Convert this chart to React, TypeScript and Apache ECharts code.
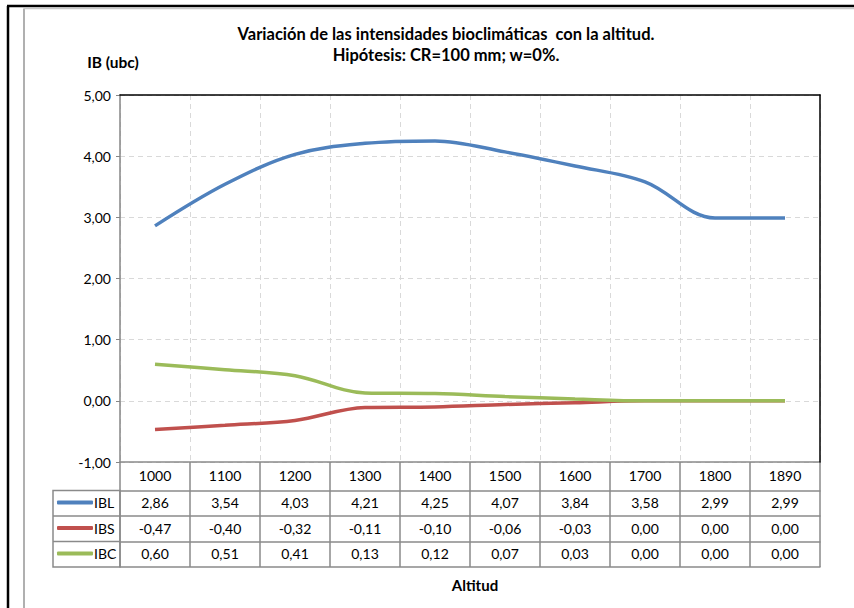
import React, { useEffect, useRef } from "react";
import * as echarts from "echarts";

const categories = ["1000", "1100", "1200", "1300", "1400", "1500", "1600", "1700", "1800", "1890"];
const ibl = [2.86, 3.54, 4.03, 4.21, 4.25, 4.07, 3.84, 3.58, 2.99, 2.99];
const ibs = [-0.47, -0.4, -0.32, -0.11, -0.1, -0.06, -0.03, 0.0, 0.0, 0.0];
const ibc = [0.6, 0.51, 0.41, 0.13, 0.12, 0.07, 0.03, 0.0, 0.0, 0.0];
const seriesNames = ["IBL", "IBS", "IBC"];
const colors = ["#4F81BD", "#C0504D", "#9BBB59"];
const yTicks = { min: -1, max: 5, interval: 1 };

const fmt = (v: number) => v.toFixed(2).replace(".", ",");
const FONT = "Lato";

export default function App() {
  const ref = useRef<HTMLDivElement>(null);
  useEffect(() => {
    if (!ref.current) return;
    const chart = echarts.init(ref.current, undefined, { renderer: "svg" });
    const tableGray = "#8a8a8a";
    const rows = [ibl, ibs, ibc];
    const rowOffsets = [28.5, 54, 79.5];
    const gridTop = 95;
    const gridBottomY = 462;
    const option: any = {
      animation: false,
      backgroundColor: "#fff",
      textStyle: { fontFamily: FONT },
      title: [
        {
          text: "Variación de las intensidades bioclimáticas  con la altitud.\nHipótesis: CR=100 mm; w=0%.",
          left: 441,
          top: 18,
          textAlign: "center",
          textStyle: { fontFamily: FONT, fontSize: 16.5, fontWeight: "bold", color: "#000", lineHeight: 21 },
        },
        {
          text: "Altitud",
          left: 470,
          top: 572,
          textAlign: "center",
          textStyle: { fontFamily: FONT, fontSize: 15, fontWeight: "bold", color: "#000" },
        },
      ],
      legend: seriesNames.map((n, i) => ({
        data: [n],
        orient: "horizontal",
        left: 57,
        top: gridBottomY + rowOffsets[i] + 5,
        itemWidth: 36,
        itemHeight: 4,
        icon: "roundRect",
        selectedMode: false,
        textStyle: { fontFamily: FONT, fontSize: 14, color: "#000", padding: [0, 0, 0, -4] },
        padding: 0,
      })),
      grid: {
        left: 120,
        right: 34,
        top: gridTop,
        bottom: 608 - gridBottomY,
        show: false,
      },
      xAxis: [
        {
          type: "category",
          data: categories,
          position: "bottom",
          boundaryGap: true,
          axisLine: { show: true, onZero: false, lineStyle: { color: tableGray, width: 1.5 } },
          axisTick: { show: true, interval: 0, length: 105, lineStyle: { color: tableGray, width: 1.5 } },
          axisLabel: { interval: 0, margin: 6, fontFamily: FONT, fontSize: 14, color: "#000" },
          splitLine: { show: true, interval: 0, lineStyle: { color: "#d9d9d9", type: [5, 4], width: 1 } },
          z: 3,
        },
        ...rows.map((r, i) => ({
          type: "category",
          data: r.map(fmt),
          position: "bottom",
          offset: rowOffsets[i],
          boundaryGap: true,
          axisLine: { show: true, onZero: false, lineStyle: { color: tableGray, width: 1.5 } },
          axisTick: { show: false },
          axisLabel: { interval: 0, margin: 5, fontFamily: FONT, fontSize: 14, color: "#000" },
          splitLine: { show: false },
        })),
        {
          type: "category",
          data: categories,
          position: "bottom",
          offset: 105,
          axisLine: { show: true, onZero: false, lineStyle: { color: tableGray, width: 1.5 } },
          axisTick: { show: false },
          axisLabel: { show: false },
          splitLine: { show: false },
        },
        {
          type: "category",
          data: categories,
          position: "top",
          axisLine: { show: true, onZero: false, lineStyle: { color: "#000", width: 1.5 } },
          axisTick: { show: false },
          axisLabel: { show: false },
          splitLine: { show: false },
          z: 20,
        },
      ],
      yAxis: [
        {
          type: "value",
          min: yTicks.min,
          max: yTicks.max,
          interval: yTicks.interval,
          name: "IB (ubc)",
          nameLocation: "end",
          nameGap: 25,
          nameTextStyle: { fontFamily: FONT, fontSize: 15.5, fontWeight: "bold", color: "#000", align: "center", padding: [0, 14, 0, 0] },
          axisLine: { show: true, onZero: false, lineStyle: { color: "#868686", width: 1.5 } },
          axisTick: { show: true, length: 4, lineStyle: { color: "#868686" } },
          axisLabel: { formatter: (v: number) => fmt(v), fontFamily: FONT, fontSize: 14, color: "#000", margin: 9 },
          splitLine: { show: true, lineStyle: { color: "#d9d9d9", type: [5, 4], width: 1 } },
          z: 3,
        },
        {
          type: "value",
          position: "right",
          min: yTicks.min,
          max: yTicks.max,
          interval: yTicks.interval,
          axisLine: { show: true, onZero: false, lineStyle: { color: "#000", width: 1.5 } },
          axisTick: { show: false },
          axisLabel: { show: false },
          splitLine: { show: false },
          z: 20,
        },
      ],
      series: seriesNames.map((n, i) => ({
        name: n,
        type: "line",
        data: rows[i],
        xAxisIndex: 0,
        yAxisIndex: 0,
        smooth: 0.35,
        symbol: "none",
        lineStyle: { color: colors[i], width: 3.5 },
        itemStyle: { color: colors[i] },
        z: 5,
      })),
      graphic: [
        { type: "line", shape: { x1: 8, y1: 6, x2: 8, y2: 608 }, style: { stroke: "#000", lineWidth: 2.5 } },
        { type: "line", shape: { x1: 7, y1: 6, x2: 854, y2: 6 }, style: { stroke: "#000", lineWidth: 2.5 } },
        { type: "line", shape: { x1: 24, y1: 8.5, x2: 24, y2: 608 }, style: { stroke: "#b0b0b0", lineWidth: 2 } },
        { type: "line", shape: { x1: 24, y1: 8.5, x2: 854, y2: 8.5 }, style: { stroke: "#c8c8c8", lineWidth: 1.5 } },
        {
          type: "rect",
          shape: { x: 53, y: gridBottomY + rowOffsets[0], width: 67, height: 105 - rowOffsets[0] },
          style: { fill: "none", stroke: tableGray, lineWidth: 1.5 },
          z: 10,
        },
        { type: "line", shape: { x1: 53, y1: gridBottomY + rowOffsets[1], x2: 120, y2: gridBottomY + rowOffsets[1] }, style: { stroke: tableGray, lineWidth: 1.5 }, z: 10 },
        { type: "line", shape: { x1: 53, y1: gridBottomY + rowOffsets[2], x2: 120, y2: gridBottomY + rowOffsets[2] }, style: { stroke: tableGray, lineWidth: 1.5 }, z: 10 },
      ],
    };
    chart.setOption(option);
    return () => chart.dispose();
  }, []);
  return <div ref={ref} style={{ position: "fixed", left: 0, top: 0, width: 854, height: 608 }} />;
}
